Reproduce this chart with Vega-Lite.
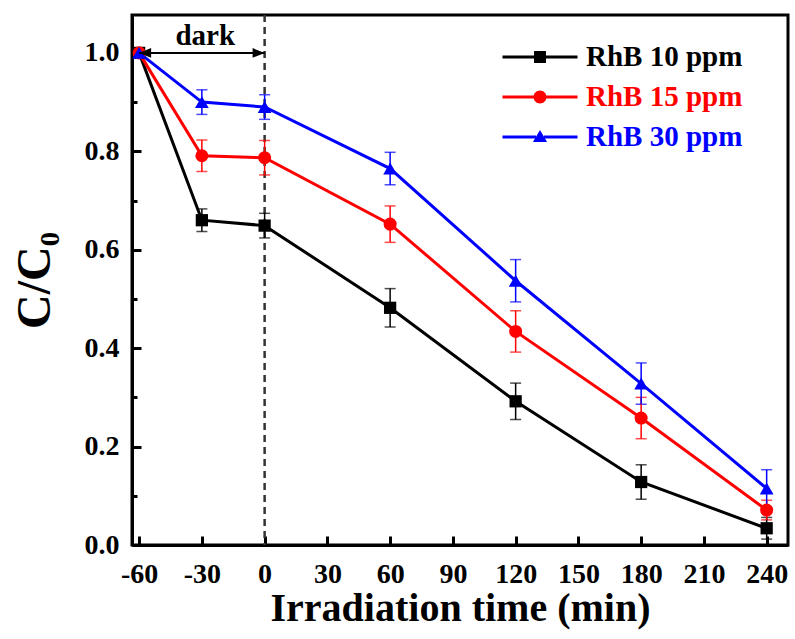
{
  "$schema": "https://vega.github.io/schema/vega-lite/v6.json",
  "width": 656,
  "height": 530,
  "autosize": {"type": "none"},
  "padding": {"left": 132, "top": 15, "right": 7, "bottom": 94},
  "background": "white",
  "config": {
    "view": {"stroke": "black", "strokeWidth": 3},
    "axis": {
      "grid": false,
      "domainColor": "black",
      "domainWidth": 3,
      "tickColor": "black",
      "tickWidth": 3,
      "labelFont": "Liberation Serif",
      "labelFontWeight": "bold",
      "labelFontSize": 28,
      "labelColor": "black",
      "titleFont": "Liberation Serif",
      "titleFontWeight": "bold",
      "titleColor": "black"
    }
  },
  "data": {
    "values": [
      {"t": -60, "c": 1.0, "lo": 1.0, "hi": 1.0, "s": "RhB 10 ppm"},
      {"t": -30, "c": 0.66, "lo": 0.637, "hi": 0.683, "s": "RhB 10 ppm"},
      {"t": 0, "c": 0.649, "lo": 0.624, "hi": 0.674, "s": "RhB 10 ppm"},
      {"t": 60, "c": 0.482, "lo": 0.443, "hi": 0.521, "s": "RhB 10 ppm"},
      {"t": 120, "c": 0.292, "lo": 0.255, "hi": 0.329, "s": "RhB 10 ppm"},
      {"t": 180, "c": 0.128, "lo": 0.093, "hi": 0.163, "s": "RhB 10 ppm"},
      {"t": 240, "c": 0.034, "lo": 0.012, "hi": 0.056, "s": "RhB 10 ppm"},
      {"t": -60, "c": 1.0, "lo": 1.0, "hi": 1.0, "s": "RhB 15 ppm"},
      {"t": -30, "c": 0.791, "lo": 0.759, "hi": 0.823, "s": "RhB 15 ppm"},
      {"t": 0, "c": 0.787, "lo": 0.752, "hi": 0.822, "s": "RhB 15 ppm"},
      {"t": 60, "c": 0.652, "lo": 0.615, "hi": 0.689, "s": "RhB 15 ppm"},
      {"t": 120, "c": 0.434, "lo": 0.392, "hi": 0.476, "s": "RhB 15 ppm"},
      {"t": 180, "c": 0.258, "lo": 0.216, "hi": 0.3, "s": "RhB 15 ppm"},
      {"t": 240, "c": 0.071, "lo": 0.051, "hi": 0.091, "s": "RhB 15 ppm"},
      {"t": -60, "c": 1.0, "lo": 1.0, "hi": 1.0, "s": "RhB 30 ppm"},
      {"t": -30, "c": 0.9, "lo": 0.875, "hi": 0.925, "s": "RhB 30 ppm"},
      {"t": 0, "c": 0.89, "lo": 0.865, "hi": 0.915, "s": "RhB 30 ppm"},
      {"t": 60, "c": 0.765, "lo": 0.732, "hi": 0.798, "s": "RhB 30 ppm"},
      {"t": 120, "c": 0.537, "lo": 0.494, "hi": 0.58, "s": "RhB 30 ppm"},
      {"t": 180, "c": 0.328, "lo": 0.286, "hi": 0.37, "s": "RhB 30 ppm"},
      {"t": 240, "c": 0.115, "lo": 0.077, "hi": 0.153, "s": "RhB 30 ppm"}
    ]
  },
  "encoding": {
    "x": {
      "field": "t",
      "type": "quantitative",
      "scale": {"domain": [-63.4, 250.2], "nice": false, "zero": false},
      "axis": {
        "title": "Irradiation time (min)",
        "titleFontSize": 40,
        "titlePadding": 0,
        "values": [-60, -30, 0, 30, 60, 90, 120, 150, 180, 210, 240],
        "labelExpr": "'' + datum.value",
        "tickSize": -9,
        "labelPadding": 24,
        "labelFlush": false
      }
    },
    "y": {
      "field": "c",
      "type": "quantitative",
      "scale": {"domain": [0, 1.077], "nice": false, "zero": false},
      "axis": {
        "title": "C/C₀",
        "titleFontSize": 48,
        "titlePadding": 25,
        "values": [0, 0.1, 0.2, 0.3, 0.4, 0.5, 0.6, 0.7, 0.8, 0.9, 1.0],
        "labelExpr": "round(datum.value*10) % 2 === 0 ? format(datum.value, '.1f') : ''",
        "tickSize": {"condition": {"test": "round(datum.value*10) % 2 === 0", "value": -9}, "value": -5},
        "labelPadding": 22,
        "labelFlush": false
      }
    }
  },
  "layer": [
    {
      "transform": [{"filter": "datum.t === -60 && datum.s === 'RhB 10 ppm'"}],
      "mark": {"type": "rule", "color": "#333333", "strokeWidth": 2.5, "strokeDash": [7, 5]},
      "encoding": {"x": {"datum": 0}, "y": null}
    },
    {
      "transform": [{"filter": "datum.t > -60"}],
      "mark": {"type": "errorbar", "ticks": {"size": 11, "thickness": 1.5}, "rule": {"strokeWidth": 1.5}},
      "encoding": {
        "y": {"field": "lo", "type": "quantitative"},
        "y2": {"field": "hi"},
        "color": {"field": "s", "type": "nominal", "scale": {"domain": ["RhB 10 ppm", "RhB 15 ppm", "RhB 30 ppm"], "range": ["#000000", "#ff0000", "#0000ff"]}, "legend": null}
      }
    },
    {
      "mark": {"type": "line", "strokeWidth": 3},
      "encoding": {
        "color": {"field": "s", "type": "nominal", "scale": {"domain": ["RhB 10 ppm", "RhB 15 ppm", "RhB 30 ppm"], "range": ["#000000", "#ff0000", "#0000ff"]}, "legend": null},
        "order": {"field": "t", "type": "quantitative"}
      }
    },
    {
      "transform": [{"filter": "datum.s === 'RhB 10 ppm'"}],
      "mark": {"type": "point", "shape": "square", "filled": true, "opacity": 1, "size": 150, "color": "#000000"}
    },
    {
      "transform": [{"filter": "datum.s === 'RhB 15 ppm'"}],
      "mark": {"type": "point", "shape": "circle", "filled": true, "opacity": 1, "size": 170, "color": "#ff0000"}
    },
    {
      "transform": [{"filter": "datum.s === 'RhB 30 ppm'"}],
      "mark": {"type": "point", "shape": "triangle-up", "filled": true, "opacity": 1, "size": 190, "color": "#0000ff"}
    },
    {
      "transform": [{"filter": "datum.t === -60 && datum.s === 'RhB 10 ppm'"}],
      "mark": {"type": "rule", "color": "black", "strokeWidth": 2},
      "encoding": {"x": {"datum": -60}, "x2": {"datum": 0}, "y": {"datum": 1.0}}
    },
    {
      "transform": [{"filter": "datum.t === -60 && datum.s === 'RhB 10 ppm'"}],
      "mark": {"type": "point", "shape": "M0,0L-1,-0.4L-1,0.4Z", "filled": true, "opacity": 1, "size": 576, "color": "black"},
      "encoding": {"x": {"datum": 0}, "y": {"datum": 1.0}}
    },
    {
      "transform": [{"filter": "datum.t === -60 && datum.s === 'RhB 10 ppm'"}],
      "mark": {"type": "point", "shape": "M0,0L1,-0.4L1,0.4Z", "filled": true, "opacity": 1, "size": 576, "color": "black"},
      "encoding": {"x": {"datum": -60}, "y": {"datum": 1.0}}
    },
    {
      "transform": [{"filter": "datum.t === -60 && datum.s === 'RhB 10 ppm'"}],
      "mark": {"type": "text", "text": "dark", "font": "Liberation Serif", "fontWeight": "bold", "fontSize": 29, "color": "black", "align": "center", "baseline": "alphabetic"},
      "encoding": {"x": {"datum": -28.4}, "y": {"datum": 1.016}}
    },
    {
      "transform": [{"filter": "false"}],
      "mark": {"type": "point", "filled": true, "opacity": 1},
      "encoding": {
        "color": {
          "field": "s",
          "type": "nominal",
          "scale": {"domain": ["RhB 10 ppm", "RhB 15 ppm", "RhB 30 ppm"], "range": ["#000000", "#ff0000", "#0000ff"]},
          "legend": {
            "orient": "none",
            "legendX": 393,
            "legendY": 27,
            "title": null,
            "labelFont": "Liberation Serif",
            "labelFontWeight": "bold",
            "labelFontSize": 29,
            "labelOffset": 31,
            "rowPadding": 10,
            "symbolSize": 900,
            "symbolStrokeWidth": 0,
            "symbolOpacity": 1,
            "symbolFillColor": {"expr": "scale('color', datum.value)"},
            "labelColor": {"expr": "scale('color', datum.value)"}
          }
        },
        "shape": {
          "field": "s",
          "type": "nominal",
          "scale": {
            "domain": ["RhB 10 ppm", "RhB 15 ppm", "RhB 30 ppm"],
            "range": [
              "M-2.5,-0.1H-0.4V0.1H-2.5Z M-0.4,-0.4H0.4V0.4H-0.4Z M0.4,-0.1H2.5V0.1H0.4Z",
              "M-2.5,-0.1H-0.42V0.1H-2.5Z M-0.433,0A0.433,0.433,0,1,1,0.433,0A0.433,0.433,0,1,1,-0.433,0Z M0.42,-0.1H2.5V0.1H0.42Z",
              "M-2.5,-0.1H-0.27V0.1H-2.5Z M0,-0.47L0.47,0.33L-0.47,0.33Z M0.27,-0.1H2.5V0.1H0.27Z"
            ]
          },
          "legend": {
            "orient": "none",
            "legendX": 393,
            "legendY": 27,
            "title": null,
            "labelFont": "Liberation Serif",
            "labelFontWeight": "bold",
            "labelFontSize": 29,
            "labelOffset": 31,
            "rowPadding": 10,
            "symbolSize": 900,
            "symbolStrokeWidth": 0,
            "symbolOpacity": 1,
            "symbolFillColor": {"expr": "scale('color', datum.value)"},
            "labelColor": {"expr": "scale('color', datum.value)"}
          }
        }
      }
    }
  ],
  "resolve": {"scale": {"shape": "independent"}}
}
